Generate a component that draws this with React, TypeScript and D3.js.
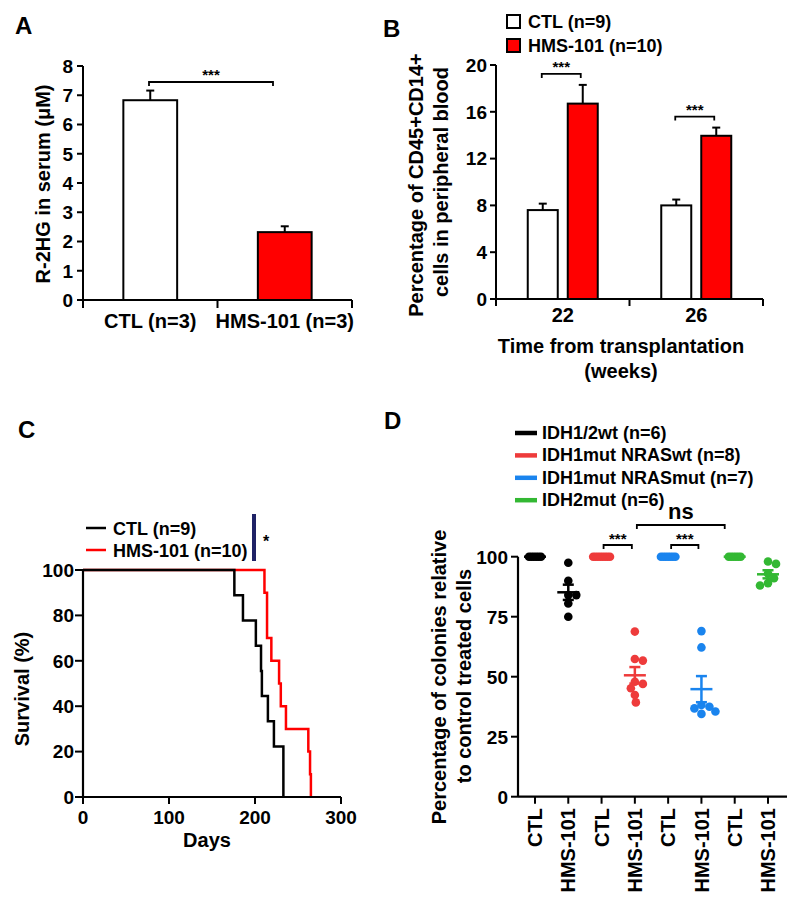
import React from "react";
import * as d3 from "d3";

const FONT = "'Liberation Sans', Arial, Helvetica, sans-serif";

// ---- panel A: R-2HG in serum
const aGroups = ["CTL (n=3)", "HMS-101 (n=3)"];
const aMeans = [6.83, 2.32];
const aErr = [0.33, 0.2];
const aFill = ["#ffffff", "#ff0000"];
const aTicks = [0, 1, 2, 3, 4, 5, 6, 7, 8];

// ---- panel B: CD45+CD14+ cells
const bWeeks = ["22", "26"];
const bSeries = ["CTL (n=9)", "HMS-101 (n=10)"];
const bCtl = [7.6, 8.0];
const bCtlErr = [0.55, 0.5];
const bHms = [16.7, 13.95];
const bHmsErr = [1.6, 0.7];
const bFill = ["#ffffff", "#ff0000"];
const bTicks = [0, 4, 8, 12, 16, 20];

// ---- panel C: survival
const cSeries = ["CTL (n=9)", "HMS-101 (n=10)"];
const cCtlDays = [176, 186, 201, 207, 208, 215, 222, 233, 233];
const cHmsDays = [211, 214, 214, 219, 228, 230, 236, 262, 264, 265];
const cColors = ["#000000", "#ff0000"];
const cXTicks = [0, 100, 200, 300];
const cYTicks = [0, 20, 40, 60, 80, 100];

// ---- panel D: colonies
const dGroups = ["IDH1/2wt (n=6)", "IDH1mut NRASwt (n=8)", "IDH1mut NRASmut (n=7)", "IDH2mut (n=6)"];
const dColors = ["#000000", "#ee3b3b", "#1a84ee", "#33b833"];
const dCtl = [
  [100, 100, 100, 100, 100, 100],
  [100, 100, 100, 100, 100, 100, 100, 100],
  [100, 100, 100, 100, 100, 100, 100],
  [100, 100, 100, 100, 100, 100],
];
const dHms = [
  [97.5, 90, 84, 84, 80.5, 75],
  [68.8, 57.4, 56.7, 47.9, 47, 45.2, 42.4, 39.3],
  [69, 62.2, 38.2, 37.5, 36.8, 35.5, 34.5],
  [98, 97, 93, 91, 89, 88],
];
const dCats = ["CTL", "HMS-101", "CTL ", "HMS-101 ", "CTL  ", "HMS-101  ", "CTL   ", "HMS-101   "];
const dTicks = [0, 25, 50, 75, 100];

const txt = { fontFamily: FONT, fontWeight: 700 as const, fill: "#000" };

function kmSteps(days: number[]) {
  const n = days.length;
  const pts: [number, number][] = [[0, 100]];
  const uniq = Array.from(new Set(days)).sort((a, b) => a - b);
  let dead = 0;
  uniq.forEach((t) => {
    dead += days.filter((d) => d === t).length;
    pts.push([t, ((n - dead) / n) * 100]);
  });
  return pts;
}

// simple beeswarm offsets
function swarm(values: number[], y: (v: number) => number, sep: number) {
  const placed: { x: number; y: number }[] = [];
  return values.map((v) => {
    const yy = y(v);
    let k = 0;
    let off = 0;
    while (true) {
      off = k === 0 ? 0 : (k % 2 === 1 ? 1 : -1) * Math.ceil(k / 2);
      const ok = placed.every((p) => Math.hypot(p.x - off, p.y - yy) >= sep);
      if (ok) break;
      k++;
    }
    placed.push({ x: off, y: yy });
    return { x: off, y: yy };
  });
}

function Bracket({ x1, x2, y, label, size = 14, dyLabel = -3 }: any) {
  return (
    <g>
      <path d={`M${x1},${y + 4}V${y}H${x2}V${y + 4}`} fill="none" stroke="#000" strokeWidth={1.8} />
      <text x={(x1 + x2) / 2} y={y + dyLabel} textAnchor="middle" fontSize={size} {...txt}>
        {label}
      </text>
    </g>
  );
}

function PanelA() {
  const x = d3.scaleBand().domain(aGroups).range([83, 352]).paddingInner(0.6).paddingOuter(0.3);
  const y = d3.scaleLinear().domain([0, 8]).range([300, 66]);
  const step = x.step();
  const bounds = d3.range(aGroups.length + 1).map((i) => 83 + i * step);
  return (
    <g>
      <text x={15} y={34} fontSize={24} {...txt}>A</text>
      {aGroups.map((g, i) => {
        const x0 = x(g)!;
        const cx = x0 + x.bandwidth() / 2;
        return (
          <g key={g}>
            <line x1={cx} x2={cx} y1={y(aMeans[i])} y2={y(aMeans[i] + aErr[i])} stroke="#000" strokeWidth={2} />
            <line x1={cx - 4} x2={cx + 4} y1={y(aMeans[i] + aErr[i])} y2={y(aMeans[i] + aErr[i])} stroke="#000" strokeWidth={2} />
            <rect x={x0} y={y(aMeans[i])} width={x.bandwidth()} height={y(0) - y(aMeans[i])} fill={aFill[i]} stroke="#000" strokeWidth={2} />
            <text x={cx} y={328} textAnchor="middle" fontSize={20} {...txt}>{g}</text>
          </g>
        );
      })}
      <line x1={83} x2={83} y1={y(8)} y2={y(0)} stroke="#000" strokeWidth={2} />
      <line x1={83} x2={352} y1={y(0)} y2={y(0)} stroke="#000" strokeWidth={2} />
      {bounds.map((b) => (
        <line key={b} x1={b} x2={b} y1={y(0)} y2={y(0) + 8} stroke="#000" strokeWidth={2} />
      ))}
      {aTicks.map((t) => (
        <g key={t}>
          <line x1={77} x2={83} y1={y(t)} y2={y(t)} stroke="#000" strokeWidth={2} />
          <text x={73} y={y(t)} dy="0.36em" textAnchor="end" fontSize={19} {...txt}>{t}</text>
        </g>
      ))}
      <text transform={`translate(50,${184}) rotate(-90)`} textAnchor="middle" fontSize={20} {...txt}>
        R-2HG in serum (μM)
      </text>
      <Bracket x1={149} x2={273} y={82} label="***" size={15} dyLabel={-2} />
    </g>
  );
}

function PanelB() {
  const x = d3.scaleBand().domain(bWeeks).range([496, 763]);
  const sub = d3.scaleBand().domain(bSeries).range([-35, 35]).paddingInner(0.25);
  const y = d3.scaleLinear().domain([0, 20]).range([299, 65]);
  const step = x.step();
  const bounds = d3.range(bWeeks.length + 1).map((i) => 496 + i * step);
  const vals = [bCtl, bHms];
  const errs = [bCtlErr, bHmsErr];
  return (
    <g>
      <text x={383} y={37} fontSize={24} {...txt}>B</text>
      {bSeries.map((s, si) => (
        <g key={s}>
          <rect x={507} y={15 + si * 24} width={13} height={13} fill={bFill[si]} stroke="#000" strokeWidth={2} />
          <text x={528} y={28 + si * 24} fontSize={18} {...txt}>{s}</text>
        </g>
      ))}
      {bWeeks.map((w, wi) => {
        const c = x(w)! + x.bandwidth() / 2;
        return (
          <g key={w}>
            {bSeries.map((s, si) => {
              const v = vals[si][wi];
              const e = errs[si][wi];
              const x0 = c + sub(s)!;
              const cx = x0 + sub.bandwidth() / 2;
              return (
                <g key={s}>
                  <line x1={cx} x2={cx} y1={y(v)} y2={y(v + e)} stroke="#000" strokeWidth={2} />
                  <line x1={cx - 4} x2={cx + 4} y1={y(v + e)} y2={y(v + e)} stroke="#000" strokeWidth={2} />
                  <rect x={x0} y={y(v)} width={sub.bandwidth()} height={y(0) - y(v)} fill={bFill[si]} stroke="#000" strokeWidth={2} />
                </g>
              );
            })}
            <text x={c} y={322} textAnchor="middle" fontSize={20} {...txt}>{w}</text>
            <Bracket
              x1={c - 21}
              x2={c + 18}
              y={y(Math.max(bCtl[wi] + bCtlErr[wi], bHms[wi] + bHmsErr[wi])) - 11}
              label="***"
              size={15}
              dyLabel={-2}
            />
          </g>
        );
      })}
      <line x1={496} x2={496} y1={y(20)} y2={y(0)} stroke="#000" strokeWidth={2} />
      <line x1={496} x2={763} y1={y(0)} y2={y(0)} stroke="#000" strokeWidth={2} />
      {bounds.map((b) => (
        <line key={b} x1={b} x2={b} y1={y(0)} y2={y(0) + 7} stroke="#000" strokeWidth={2} />
      ))}
      {bTicks.map((t) => (
        <g key={t}>
          <line x1={490} x2={496} y1={y(t)} y2={y(t)} stroke="#000" strokeWidth={2} />
          <text x={487} y={y(t)} dy="0.36em" textAnchor="end" fontSize={19} {...txt}>{t}</text>
        </g>
      ))}
      <text transform="translate(423,185) rotate(-90)" textAnchor="middle" fontSize={20} {...txt}>
        Percentage of CD45+CD14+
      </text>
      <text transform="translate(448,182) rotate(-90)" textAnchor="middle" fontSize={20} {...txt}>
        cells in peripheral blood
      </text>
      <text x={621} y={353} textAnchor="middle" fontSize={20} {...txt}>Time from transplantation</text>
      <text x={621} y={378} textAnchor="middle" fontSize={20} {...txt}>(weeks)</text>
    </g>
  );
}

function PanelC() {
  const x = d3.scaleLinear().domain([0, 300]).range([83, 341]);
  const y = d3.scaleLinear().domain([0, 100]).range([797, 570]);
  const line = d3
    .line<[number, number]>()
    .x((d) => x(d[0]))
    .y((d) => y(d[1]))
    .curve(d3.curveStepAfter);
  const curves = [kmSteps(cCtlDays), kmSteps(cHmsDays)];
  return (
    <g>
      <text x={18} y={438} fontSize={24} {...txt}>C</text>
      {cSeries.map((s, i) => (
        <g key={s}>
          <line x1={86} x2={106} y1={528 + i * 22} y2={528 + i * 22} stroke={cColors[i]} strokeWidth={2.5} />
          <text x={113} y={535 + i * 22} fontSize={18} {...txt}>{s}</text>
        </g>
      ))}
      <rect x={252} y={514} width={4} height={47} fill="#1f2266" />
      <text x={266} y={547} textAnchor="middle" fontSize={16} {...txt}>*</text>
      {[1, 0].map((i) => (
        <path key={i} d={line(curves[i])!} fill="none" stroke={cColors[i]} strokeWidth={2.5} />
      ))}
      <line x1={83} x2={83} y1={y(100)} y2={y(0)} stroke="#000" strokeWidth={2.2} />
      <line x1={83} x2={341} y1={y(0)} y2={y(0)} stroke="#000" strokeWidth={2.2} />
      {cXTicks.map((t) => (
        <g key={t}>
          <line x1={x(t)} x2={x(t)} y1={y(0)} y2={y(0) + 7} stroke="#000" strokeWidth={2} />
          <text x={x(t)} y={824} textAnchor="middle" fontSize={19} {...txt}>{t}</text>
        </g>
      ))}
      {cYTicks.map((t) => (
        <g key={t}>
          <line x1={75} x2={83} y1={y(t)} y2={y(t)} stroke="#000" strokeWidth={2} />
          <text x={74} y={y(t)} dy="0.36em" textAnchor="end" fontSize={19} {...txt}>{t}</text>
        </g>
      ))}
      <text transform="translate(29,689) rotate(-90)" textAnchor="middle" fontSize={20} {...txt}>
        Survival (%)
      </text>
      <text x={207} y={847} textAnchor="middle" fontSize={20} {...txt}>Days</text>
    </g>
  );
}

function PanelD() {
  const x = d3.scalePoint().domain(dCats).range([535, 768]);
  const y = d3.scaleLinear().domain([0, 100]).range([796.7, 556.7]);
  const r = 4.3;
  return (
    <g>
      <text x={384} y={429} fontSize={24} {...txt}>D</text>
      {dGroups.map((g, i) => (
        <g key={g}>
          <line x1={515} x2={537} y1={433 + i * 22.4} y2={433 + i * 22.4} stroke={dColors[i]} strokeWidth={4.5} />
          <text x={542} y={439 + i * 22.4} fontSize={18} {...txt}>{g}</text>
        </g>
      ))}
      {dGroups.map((g, gi) => {
        const cx0 = x(dCats[gi * 2])!;
        const cx1 = x(dCats[gi * 2 + 1])!;
        const ctl = dCtl[gi];
        const hms = dHms[gi];
        const ctlOff = ctl.map((_, k) => (k - (ctl.length - 1) / 2) * 2.4);
        const pts = swarm(hms, y, 7.5);
        const mean = d3.mean(hms)!;
        const sem = d3.deviation(hms)! / Math.sqrt(hms.length);
        const col = dColors[gi];
        return (
          <g key={g}>
            {ctl.map((v, k) => (
              <circle key={k} cx={cx0 + ctlOff[k]} cy={y(v)} r={r} fill={col} />
            ))}
            {pts.map((p, k) => (
              <circle key={k} cx={cx1 + p.x} cy={p.y} r={r} fill={col} />
            ))}
            <line x1={cx0 - 11} x2={cx0 + 11} y1={y(100)} y2={y(100)} stroke={col} strokeWidth={2.5} />
            <line x1={cx1 - 11} x2={cx1 + 11} y1={y(mean)} y2={y(mean)} stroke={col} strokeWidth={2.5} />
            <line x1={cx1} x2={cx1} y1={y(mean - sem)} y2={y(mean + sem)} stroke={col} strokeWidth={2.5} />
            <line x1={cx1 - 5.5} x2={cx1 + 5.5} y1={y(mean + sem)} y2={y(mean + sem)} stroke={col} strokeWidth={2.5} />
            <line x1={cx1 - 5.5} x2={cx1 + 5.5} y1={y(mean - sem)} y2={y(mean - sem)} stroke={col} strokeWidth={2.5} />
          </g>
        );
      })}
      <Bracket x1={x(dCats[2])! + 2} x2={x(dCats[3])! - 3} y={545} label="***" size={15} dyLabel={-1} />
      <Bracket x1={x(dCats[4])! + 3} x2={x(dCats[5])! - 3} y={545} label="***" size={15} dyLabel={-1} />
      <Bracket x1={x(dCats[3])! + 2} x2={x(dCats[6])! - 10} y={525} label="ns" size={22} dyLabel={-6} />
      <line x1={518} x2={518} y1={y(100)} y2={y(0)} stroke="#000" strokeWidth={2.2} />
      <line x1={518} x2={787} y1={y(0)} y2={y(0)} stroke="#000" strokeWidth={2.2} />
      {dTicks.map((t) => (
        <g key={t}>
          <line x1={511} x2={518} y1={y(t)} y2={y(t)} stroke="#000" strokeWidth={2} />
          <text x={508} y={y(t)} dy="0.36em" textAnchor="end" fontSize={19} {...txt}>{t}</text>
        </g>
      ))}
      {dCats.map((c) => (
        <g key={c}>
          <line x1={x(c)} x2={x(c)} y1={y(0)} y2={y(0) + 7} stroke="#000" strokeWidth={2} />
          <text
            transform={`translate(${x(c)},808) rotate(-90)`}
            dy="0.36em"
            textAnchor="end"
            fontSize={20}
            {...txt}
          >
            {c.trim()}
          </text>
        </g>
      ))}
      <text transform="translate(446,677) rotate(-90)" textAnchor="middle" fontSize={20} {...txt}>
        Percentage of colonies relative
      </text>
      <text transform="translate(471,676) rotate(-90)" textAnchor="middle" fontSize={20} {...txt}>
        to control treated cells
      </text>
    </g>
  );
}

export default function App() {
  return (
    <div style={{ position: "absolute", left: 0, top: 0 }}>
      <svg width={800} height={907} viewBox="0 0 800 907" style={{ display: "block", background: "#fff" }}>
        <PanelA />
        <PanelB />
        <PanelC />
        <PanelD />
      </svg>
    </div>
  );
}
